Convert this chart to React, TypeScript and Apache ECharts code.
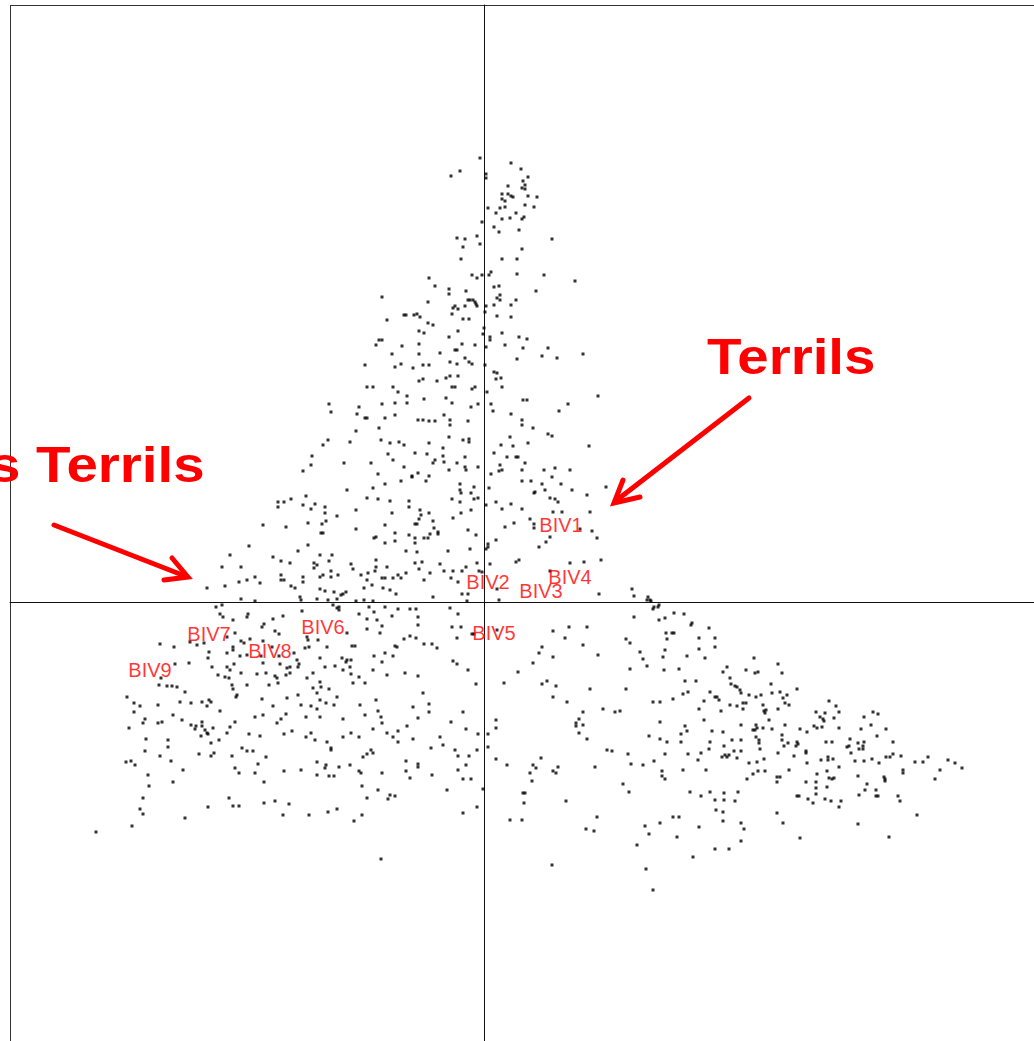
import React, { useEffect, useRef } from "react";
import * as echarts from "echarts";

// Factorial map scores (x, y) x100, grouped by region
const ptsSpike = [
  -4,444, 27,439, 37,433, -24,431, -33,426, 2,428, 2,424, 44,425, 39,421, 41,417, 38,414, 41,413, 24,416, 18,408, 24,408, 27,406, 29,405, 18,403, 21,401, 44,406, 53,405, 41,397, 50,395, 4,394, 16,394, 21,395, 12,389, 32,389, 26,384, 18,383, 38,383, 40,385, -2,380, 10,375, 15,370, 35,372, -27,364, -19,363, -7,366, 68,363, -21,355, -4,358, 38,353, -23,343, 18,343, 33,343, 7,330, 5,327, -12,327, -7,324, -2,327, 33,328, 60,327, 91,321, -55,324, -49,316, -35,313, -35,308, -18,311, 10,315, 15,316, 52,311, -102,305, -56,300, -16,302, -14,302, -11,302, -9,300, -8,298, -7,296, 13,304, 16,307, 16,302, 32,302, 27,297, 10,297, 2,296, -19,296, -29,296, -31,294, -32,288, -26,293, 1,290, 13,286, 27,285, -80,287, -78,287, -70,287, -67,288, -64,285, -97,282, -21,283, -15,283, -56,279, -51,277, 0,274,
];

const ptsUpperLeft = [
  -65,271, -60,269, -35,265, -26,271, -105,262, -102,262, -108,257, -82,256, -65,258, -22,258, -9,257, -92,248, -65,248, -44,249, -29,252, -27,252, -19,244, -119,237, -89,235, -83,238, -71,234, -61,237, -55,237, -34,240, -27,238, -15,240, -12,238, -65,221, -61,223, -47,221, -38,224, -34,226, -26,226, -117,215, -111,215, -91,215, -86,210, -32,215, -29,215, -12,213, -9,215, -77,206, -77,199, -89,199, -102,198, -60,203, -38,204, -32,199, -13,195, -6,198, -155,198, -153,190, -125,195, -127,188, -119,184, -117,184, -99,184, -89,187, -66,182, -61,182, -55,181, -49,181, -40,187, -34,182, -34,177, -16,181, -105,174, -128,171, -156,162, -161,157, -134,160, -103,162, -94,159, -85,160, -80,157, -55,159, -35,165, -21,162, -15,163, -15,160, -41,154, -172,146, -173,137, -181,131, -140,139, -113,139, -96,148, -91,142, -69,149, -57,148, -49,142, -51,139, -41,146, -40,140, -35,132, -27,139, -19,145, -19,135, -18,132, -6,135, -80,135, -106,128, -72,126, -72,125, -66,129, -55,126, -58,121, -83,121, -99,118, -111,114, -137,112, -24,118, -24,112, -23,109, -10,115, -13,109, -178,106, -193,103, -200,100, -206,100, -206,95, -181,97, -173,93, -169,98, -159,95, -159,89, -147,86, -128,92, -117,104, -106,103, -94,101, -75,101, -75,95, -92,89, -64,92, -63,87, -65,83, -55,89, -32,103, -24,100, -23,89, -13,92, -10,103, -6,104, -31,84,
];

const ptsUpperRight = [
  -1,268, 6,265, 6,262, 18,269, 35,265, 43,263, 2,255, 21,257, 39,254, 64,254, 58,246, 73,244, 99,248, 33,243, 1,237, 10,230, 13,229, 12,223, 17,224, 18,215, 3,210, 39,202, 43,202, 114,206, 7,198, 9,191, 84,198, 75,191, 27,188, 38,182, 38,177, 49,174, 64,168, 68,166, 26,165, 17,157, 29,156, 44,159, 105,156, 10,149, 23,145, 32,145, 34,145, 41,139, 16,137, 18,132, 15,131, 7,128, 38,132, 60,132, 71,134, 86,132, 68,125, 38,121, 47,121, 58,118, 61,112, 77,118, 5,114, 51,110, 50,109, 88,112, 122,115, 103,107, 66,104, 71,103, 74,100, 2,97, 12,100, 27,98, 18,93, 38,93, 69,90, 78,90, 106,90, 46,83,
];

const ptsMidLeft = [
  -221,77, -198,75, -176,79, -162,78, -158,81, -128,73, -99,77, -163,69, -161,69, -108,65, -110,64, -99,59, -235,56, -176,57, -186,51, -254,47, -211,45, -203,41, -194,39, -164,47, -152,47, -155,41, -170,39, -167,37, -170,34, -133,38, -131,33, -108,42, -108,35, -109,31, -97,35, -262,35, -243,35, -153,31, -203,27, -203,22, -200,22, -181,25, -181,20, -164,25, -161,27, -153,25, -146,27, -123,27, -116,29, -117,22, -112,17, -102,24, -99,24, -229,25, -237,22, -245,20, -224,19, -259,16, -277,14, -193,16, -189,14, -164,13, -159,11, -150,10, -138,10, -141,8, -143,7, -120,14, -101,14, -243,3, -229,1, -184,5, -183,2, -167,3, -156,2, -147,3, -128,1, -120,2, -111,1, -262,-3, -268,-5, -182,-9, -151,-3, -145,-5, -147,-6, -145,-8, -115,-5, -110,-10, -99,-5, -264,-12, -261,-15, -251,-18, -236,-12, -237,-15, -211,-17, -201,-14, -220,-22, -222,-25, -209,-29, -205,-32, -177,-35, -176,-38, -166,-38, -137,-31, -125,-12, -117,-17, -107,-18, -102,-24, -117,-27, -104,-31, -249,-31, -257,-35, -294,-40, -287,-43, -280,-41, -324,-42, -310,-45, -243,-39, -240,-41, -234,-37, -221,-39, -251,-45, -251,-48, -257,-51, -275,-50, -276,-56, -244,-54, -237,-53, -223,-54, -212,-45, -205,-54, -190,-51, -179,-46, -175,-45, -187,-58, -185,-62, -164,-56, -157,-45, -142,-56, -137,-58, -138,-60, -133,-58, -110,-54, -99,-51, -102,-60, -132,-44, -129,-44, -309,-62, -295,-61, -272,-65, -257,-65, -250,-62, -254,-68, -243,-71, -221,-61, -204,-62, -197,-66, -194,-65, -186,-65, -194,-71, -198,-73, -227,-72, -218,-71, -209,-74, -207,-76, -266,-73, -259,-75, -255,-76, -177,-76, -171,-71, -159,-65, -149,-64, -141,-68, -134,-65, -133,-72, -125,-75, -111,-68, -97,-73, -323,-76, -325,-83, -317,-84, -312,-84, -307,-85, -299,-90, -357,-95, -252,-83, -251,-87, -247,-93, -248,-95, -237,-83, -215,-83, -206,-81, -186,-93, -171,-86, -164,-80, -163,-85, -167,-91, -155,-87, -147,-95, -131,-81, -119,-81, -222,-97,
];

const ptsMidCentre = [
  -89,69, -89,61, -69,78, -67,78, -51,81, -50,74, -46,70, -46,68, -54,68, -56,64, -60,64, -75,67, -69,64, -69,59, -78,51, -67,50, -36,51, -16,72, -8,67, -14,53, -69,39, -62,40, -44,38, -65,33, -78,29, -86,27, -83,24, -91,24, -54,29, -60,22, -40,31, -31,31, -33,24, -26,20, -22,31, -18,35, -7,39, -5,31, -2,30, 4,58, 2,53, 4,55, 6,38, 12,62, 21,75, 30,79, 50,78, 50,74, 55,55, 62,60, 66,65, 96,73, 108,71, 113,64, 32,40, 35,42, 66,31, 86,39, 100,40, 117,42, 13,13, 15,2, -22,8, -16,8, -17,1, -51,5, -88,8, -94,12, 115,8, 148,13, 150,6, 164,5, 166,2, 167,1, 163,2, 175,-3, 174,-5, 170,-5, 169,-7, 181,-16, 175,-18, 150,-15, -86,-7, -74,-7, -68,-7, -92,-14, -66,-15, -66,-23, -34,-6, -26,-12, -32,-25, -23,-25, -27,-36, -80,-37, -74,-34, -68,-36, -60,-42, -52,-42, -47,-46, -89,-44, -87,-45, -91,-54, -12,-32, -10,-32, 13,-28, 69,-29, 85,-25, 103,-25, 81,-36, 58,-45, 55,-51, 69,-55, 49,-61, 99,-43, 114,-53, 142,-37, 146,-41, 156,-50, 159,-57, 163,-64, 182,-31, 183,-37, 179,-55, 181,-48, 146,-67, 180,-68, -31,-59, -27,-62, -16,-68, -8,-82, -79,-71, -66,-74, -61,-91, 20,-81, 34,-70, 58,-82, 63,-79, 72,-84, 69,-95, 106,-87, 142,-87,
];

const ptsRightWing = [
  190,-11, 200,-12, 207,-23, 208,-21, 225,-26, 188,-31, 190,-31, 215,-36, 231,-36, 215,-47, 231,-45, 203,-54, 221,-56, 270,-56, 195,-67, 239,-70, 243,-65, 262,-68, 271,-71, 274,-70, 294,-62, 298,-71, 246,-76, 247,-82, 201,-79, 212,-79, 251,-84, 253,-85, 256,-88, 257,-91, 287,-82, 313,-87, 199,-92, 204,-90, 226,-90, 231,-95, 233,-95, 235,-98, 265,-93, 272,-95, 277,-93, 288,-91, 296,-90, 299,-96, 303,-93, 301,-101, 305,-103, 189,-97, 220,-99, 215,-107, 237,-109, 246,-103, 253,-104, 259,-101, 262,-101, 259,-107, 279,-103, 294,-107, 280,-109, 281,-111, 282,-108, 285,-118, 220,-118, 257,-123, 272,-123, 273,-126, 269,-128, 271,-128, 279,-126, 288,-127, 301,-123, 332,-110, 336,-115, 339,-117, 340,-119, 341,-111, 345,-99, 352,-104, 355,-110, 350,-116, 333,-126, 330,-124, 338,-125, 355,-126, 316,-127, 323,-130, 380,-115, 389,-110, 394,-112, 387,-123, 377,-127, 402,-127, 393,-134, 201,-124, 203,-129, 197,-132, 197,-140, 228,-129, 239,-130, 226,-140, 248,-138, 257,-138, 240,-144, 257,-149, 250,-149, 238,-155, 241,-153, 243,-155, 245,-153, 253,-156, 275,-138, 275,-141, 272,-135, 276,-147, 280,-157, 265,-161, 273,-160, 204,-152, 217,-151, 214,-158, 225,-147, 199,-168, 222,-168, 298,-133, 298,-138, 300,-144, 304,-141, 313,-140, 314,-142, 312,-144, 294,-151, 310,-154, 322,-149, 322,-151, 323,-161, 305,-168, 342,-140, 348,-140, 337,-158, 344,-155, 344,-158, 349,-157, 355,-165, 343,-169, 333,-172, 345,-176, 348,-177, 350,-176, 343,-185, 332,-180, 332,-186, 332,-192, 322,-180, 329,-201, 324,-197, 313,-194, 315,-194, 341,-197, 347,-199, 357,-199, 355,-205, 293,-175, 296,-175, 293,-180, 263,-177, 269,-172, 274,-169, 281,-169, 206,-190, 217,-194, 226,-190, 231,-198, 240,-191, 240,-198, 251,-199, 254,-190, 232,-208, 239,-210, 239,-219, 257,-221, 260,-227, 257,-239, 215,-225, 189,-215, 195,-215, 193,-235, 231,-247, 245,-247, 209,-255, 293,-211, 299,-221, 316,-236, 363,-145, 365,-144, 367,-151, 366,-137, 374,-141, 380,-140, 375,-147, 379,-147, 379,-144, 371,-159, 380,-159, 388,-157, 395,-161, 402,-155, 406,-155, 409,-152, 417,-154, 409,-140, 419,-168, 419,-171, 431,-160, 439,-160, 444,-155, 464,-158, 471,-161, 478,-166, 456,-168, 451,-177, 374,-174, 383,-182, 381,-188, 375,-193, 392,-188, 392,-194, 394,-194, 400,-175, 401,-177, 401,-179, 414,-194, 416,-199, 433,-213, 374,-222, 405,-235,
];

const ptsLowerLeft = [
  -197,-96, -350,-101, -344,-104, -350,-110, -326,-103, -304,-100, -293,-101, -282,-100, -277,-104, -275,-98, -273,-100, -264,-109, -211,-104, -183,-103, -173,-104, -167,-107, -164,-98, -158,-101, -150,-103, -124,-103, -108,-98, -106,-109, -311,-113, -302,-118, -339,-117, -341,-121, -326,-121, -322,-120, -355,-126, -293,-123, -288,-124, -289,-127, -282,-120, -282,-124, -279,-128, -277,-131, -276,-132, -271,-126, -283,-134, -273,-141, -265,-138, -257,-131, -254,-125, -249,-120, -229,-115, -221,-113, -207,-121, -203,-117, -198,-112, -178,-115, -164,-115, -141,-117, -119,-113, -235,-132, -224,-134, -200,-132, -192,-129, -178,-135, -173,-131, -169,-138, -157,-140, -153,-146, -153,-148, -141,-135, -133,-131, -125,-135, -111,-127, -338,-137, -339,-149, -316,-138, -316,-145, -324,-154, -313,-159, -285,-152, -273,-154, -270,-151, -252,-154, -242,-146, -237,-149, -231,-149, -218,-155, -226,-162, -229,-171, -249,-166, -245,-171, -220,-180, -358,-160, -353,-159, -349,-163, -336,-173, -335,-184, -311,-180, -301,-168, -341,-196, -344,-207, -341,-212, -352,-224, -388,-230, -299,-216, -276,-205, -255,-196, -251,-204, -245,-204, -220,-201, -209,-199, -195,-202, -201,-213, -175,-213, -200,-169, -183,-168, -167,-160, -158,-163, -159,-166, -167,-173, -155,-174, -150,-174, -145,-165, -134,-163, -125,-169, -123,-171, -121,-155, -117,-152, -113,-148, -111,-151, -122,-184, -117,-196, -106,-188, -156,-210, -147,-207, -130,-219, -122,-213,
];

const ptsLowerCentre = [
  -103,-115, -102,-121, -71,-105, -55,-102, -55,-110, -66,-116, -77,-124, -97,-131, -86,-129, -91,-135, -86,-140, -71,-137, -33,-120, -21,-110, -18,-127, -6,-132, 4,-132, 12,-118, 12,-126, 4,-145, 12,-157, -53,-146, -44,-135, -41,-143, -29,-148, -26,-154, -15,-154, -7,-148, -78,-159, -78,-169, -74,-176, -66,-162, -66,-165, -52,-173, -26,-168, -18,-163, -21,-177, -13,-177, -102,-171, -37,-188, -1,-187, -94,-193, -89,-194, -96,-197, -21,-211, -7,-205, -103,-257, 23,-163, 26,-218, 38,-218, 39,-191, 41,-191, 40,-201, 46,-171, 49,-163, 52,-166, 48,-179, 57,-156, 69,-169, 72,-171, 74,-165, 82,-199, 68,-263, 83,-100, 92,-121, 92,-124, 95,-117, 99,-110, 99,-123, 95,-131, 103,-137, 111,-165, 119,-107, 123,-148, 128,-149, 131,-110, 136,-109, 144,-152, 147,-162, 139,-182, 145,-190, 113,-215, 102,-227, 110,-229, 159,-163, 165,-134, 169,-100, 176,-100, 176,-120, 176,-137, 183,-140, 170,-159, 181,-152, 178,-169, 178,-174, 181,-177, 161,-224, 165,-232, 176,-221, 153,-243, 162,-267, 169,-288,
];

// Supplementary variables (red labels)
const bivNames = ["BIV1", "BIV2", "BIV3", "BIV4", "BIV5", "BIV6", "BIV7", "BIV8", "BIV9"];
const bivX = [77, 4, 57, 86, 10, -161, -275, -214, -334];
const bivY = [77, 20, 11, 25, -31, -25, -32, -49, -68];

const annotRight = "Terrils";
const annotLeft = "s Terrils";

function pairs(a: number[]): number[][] {
  const r: number[][] = [];
  for (let i = 0; i + 1 < a.length; i += 2) r.push([a[i], a[i + 1]]);
  return r;
}

export default function App() {
  const ref = useRef<HTMLDivElement>(null);
  useEffect(() => {
    if (!ref.current) return;
    const chart = echarts.init(ref.current, undefined, { renderer: "svg" });
    const allPts = [
      ...pairs(ptsSpike),
      ...pairs(ptsUpperLeft),
      ...pairs(ptsUpperRight),
      ...pairs(ptsMidLeft),
      ...pairs(ptsMidCentre),
      ...pairs(ptsRightWing),
      ...pairs(ptsLowerLeft),
      ...pairs(ptsLowerCentre),
    ];
    const labels = bivNames.map((n, i) => ({ name: n, value: [bivX[i], bivY[i]] }));
    const red = "#ff0000";
    const bigFont = {
      fontFamily: "Liberation Sans, Arial, sans-serif",
      fontWeight: "bold" as const,
      fontSize: 50,
      fill: red,
    };
    const frame = { stroke: "#333", lineWidth: 1 };
    chart.setOption({
      animation: false,
      backgroundColor: "#ffffff",
      grid: {
        show: false,
        left: 10,
        top: 5,
        right: 0,
        bottom: 0,
      },
      xAxis: {
        type: "value",
        min: -474,
        max: 550,
        axisLine: { show: true, onZero: true, lineStyle: { color: "#111", width: 1 } },
        axisTick: { show: false },
        axisLabel: { show: false },
        splitLine: { show: false },
      },
      yAxis: {
        type: "value",
        min: -439,
        max: 597,
        axisLine: { show: true, onZero: true, lineStyle: { color: "#111", width: 1 } },
        axisTick: { show: false },
        axisLabel: { show: false },
        splitLine: { show: false },
      },
      series: [
        {
          type: "scatter",
          data: allPts,
          symbol: "rect",
          symbolSize: 3,
          itemStyle: { color: "#000" },
          silent: true,
        },
        {
          type: "scatter",
          data: labels,
          symbolSize: 0,
          silent: true,
          label: {
            show: true,
            position: "inside",
            formatter: "{b}",
            color: red,
            fontSize: 20,
            fontFamily: "Liberation Sans, Arial, sans-serif",
          },
          z: 5,
        },
      ],
      graphic: [
        {
          type: "line",
          shape: { x1: 10, y1: 5.5, x2: 1034, y2: 5.5 },
          style: frame,
          silent: true,
        },
        {
          type: "line",
          shape: { x1: 10.5, y1: 5, x2: 10.5, y2: 1041 },
          style: frame,
          silent: true,
        },
        {
          type: "text",
          x: 707,
          y: 332,
          scaleX: 1.13,
          style: { text: annotRight, ...bigFont },
          z: 10,
        },
        {
          type: "text",
          x: -11,
          y: 440,
          scaleX: 1.13,
          style: { text: annotLeft, ...bigFont },
          z: 10,
        },
        {
          type: "line",
          shape: { x1: 749, y1: 398, x2: 617, y2: 500 },
          style: { stroke: red, lineWidth: 5, lineCap: "round" },
          z: 10,
        },
        {
          type: "polyline",
          shape: { points: [[623, 480], [614, 503], [640, 497]] },
          style: { stroke: red, lineWidth: 5, lineCap: "round", lineJoin: "miter", fill: "none" },
          z: 10,
        },
        {
          type: "line",
          shape: { x1: 54, y1: 525, x2: 185, y2: 576 },
          style: { stroke: red, lineWidth: 5, lineCap: "round" },
          z: 10,
        },
        {
          type: "polyline",
          shape: { points: [[172, 558], [188, 577], [164, 580]] },
          style: { stroke: red, lineWidth: 5, lineCap: "round", lineJoin: "miter", fill: "none" },
          z: 10,
        },
      ],
    });
    return () => chart.dispose();
  }, []);
  return (
    <div
      ref={ref}
      style={{ position: "absolute", left: 0, top: 0, width: 1034, height: 1041, background: "#fff" }}
    />
  );
}
